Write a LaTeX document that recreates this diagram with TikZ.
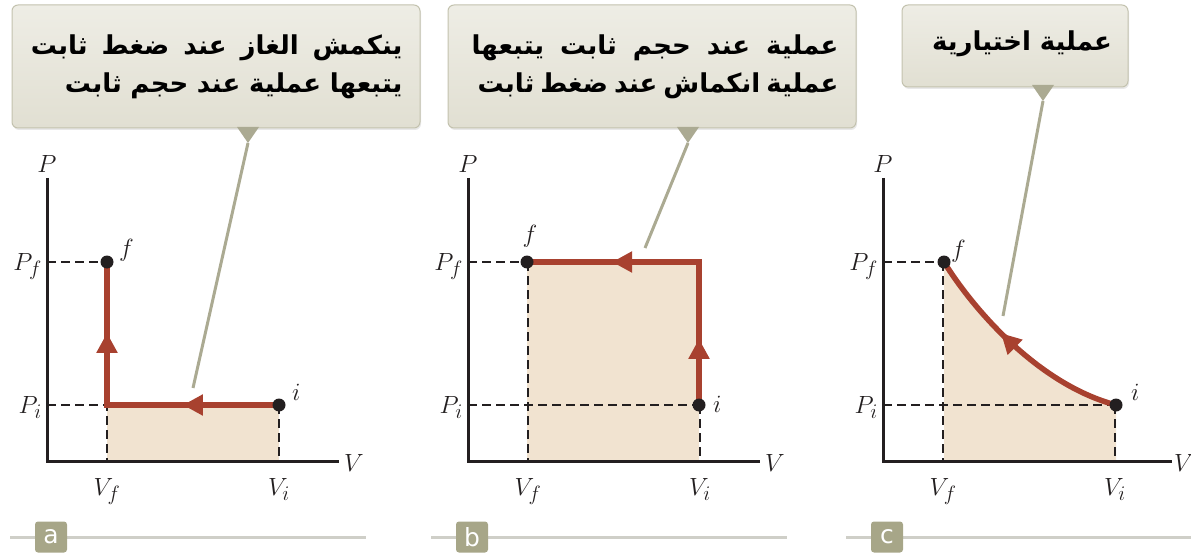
\documentclass[tikz,border=0pt]{standalone}
\usepackage{fontspec}
\usepackage{tikz}
\TeXXeTstate=1
\newfontfamily\arabicfont[Script=Arabic]{DejaVu Sans}
\newfontfamily\tagfont{DejaVu Sans}
\usetikzlibrary{arrows.meta,calc,decorations.markings,shadows}

\definecolor{pathred}{HTML}{A8412F}
\definecolor{areabeige}{HTML}{F1E3D0}
\definecolor{boxtop}{HTML}{EEEDE5}
\definecolor{boxbot}{HTML}{E1DFD2}
\definecolor{boxedge}{HTML}{C3C2AE}
\definecolor{pointer}{HTML}{ABAA92}
\definecolor{tagfill}{HTML}{A7A688}
\definecolor{rulegray}{HTML}{CFCFC8}
\definecolor{inkblack}{HTML}{231F20}

\newcommand\flowtip{\arrow{Triangle[length=20pt,width=20pt]}}

\begin{document}
\begin{tikzpicture}[x=1pt, y=-1pt,
  callout/.style={rectangle, rounded corners=6pt, draw=boxedge, line width=1pt,
                  top color=boxtop, bottom color=boxbot, inner sep=0pt,
                  drop shadow={opacity=0.18, shadow xshift=1pt, shadow yshift=-2pt},
                  font=\arabicfont\bfseries\fontsize{26}{32}\selectfont, align=right},
  leader/.style={draw=pointer, line width=3pt},
  area/.style={fill=areabeige},
  axis/.style={draw=inkblack, line width=3pt},
  guide/.style={draw=inkblack, line width=1.3pt, dash pattern=on 9pt off 5pt},
  flow/.style={pathred, line width=5.5pt, postaction={decorate}},
  lbl/.style={font=\fontsize{28}{28}\selectfont, text=inkblack, inner sep=0pt},
  rule/.style={draw=rulegray, line width=3pt},
  tag/.style={rectangle, rounded corners=3pt, fill=tagfill, minimum width=32pt,
              minimum height=31pt, inner sep=0pt, text=white,
              font=\tagfont\fontsize{25}{25}\selectfont}
]
  \useasboundingbox (0,0) rectangle (1191,556);

  % shaded work areas
  \fill[area] (107,405) rectangle (279,461);
  \fill[area] (527,262) rectangle (699,461);
  \fill[area] (944,262) .. controls (975,312) and (1040,385) .. (1116,405) |- (944,461) -- cycle;

  % axes, guide lines and panel tags
  \foreach \p/\ox/\vx/\vend in {a/47/297/292, b/468/297/292, c/883/291/289} {
    \begin{scope}[xshift=\ox]
      \draw[guide] (0,262) -- (60,262) (0,405) -- (232,405)
                   (60,262) -- (60,461) (232,405) -- (232,461);
      \draw[axis] (0,178) -- (0,461) -- (\vend,461);
      \node[lbl, anchor=south] (\p-P) at (0,173) {$P$};
      \node[lbl, anchor=base west] (\p-V) at (\vx,471) {$V$};
      \node[lbl, anchor=base east] (\p-Pf) at (-5,270) {$P_f$};
      \node[lbl, anchor=base east] (\p-Pi) at (-5,413) {$P_i$};
      \node[lbl, anchor=base] (\p-Vf) at (60,495) {$V_f$};
      \node[lbl, anchor=base] (\p-Vi) at (232,495) {$V_i$};
      \draw[rule] (-37,537) -- (319,537);
      \node[tag] (\p-tag) at (4,537) {\p};
    \end{scope}
  }

  % (a) pressure first, then volume
  \coordinate (a-i) at (279,405);
  \coordinate (a-k) at (107,405);
  \coordinate (a-f) at (107,262);
  \draw[flow, decoration={markings, mark=at position 0.305 with {\flowtip},
        mark=at position 0.775 with {\flowtip}}] (a-i) -- (a-k) -- (a-f);
  \fill[inkblack] (a-i) circle (6.5pt) (a-f) circle (6.5pt);
  \node[lbl, anchor=base west] (a-ilbl) at (292,400) {$i$};
  \node[lbl, anchor=base west] (a-flbl) at (119,256) {$f$};

  % (b) volume first, then pressure
  \coordinate (b-i) at (699,405);
  \coordinate (b-k) at (699,262);
  \coordinate (b-f) at (527,262);
  \draw[flow, decoration={markings, mark=at position 0.21 with {\flowtip},
        mark=at position 0.73 with {\flowtip}}] (b-i) -- (b-k) -- (b-f);
  \fill[inkblack] (b-i) circle (6.5pt) (b-f) circle (6.5pt);
  \node[lbl, anchor=base west] (b-ilbl) at (713,412) {$i$};
  \node[lbl, anchor=base] (b-flbl) at (530,243) {$f$};

  % (c) arbitrary path
  \coordinate (c-i) at (1116,405);
  \coordinate (c-f) at (944,262);
  \draw[flow, decoration={markings, mark=at position 0.6 with {\flowtip}}]
        (c-i) .. controls (1040,385) and (975,312) .. (c-f);
  \fill[inkblack] (c-i) circle (6.5pt) (c-f) circle (6.5pt);
  \node[lbl, anchor=base west] (c-ilbl) at (1131,400) {$i$};
  \node[lbl, anchor=base west] (c-flbl) at (951,257) {$f$};

  % callouts
  \node[callout, minimum width=408, minimum height=123, text width=373] (box-a) at (216,66.5)
    {\vspace*{6pt}{\spaceskip=14pt\relax\beginR ينكمش الغاز عند ضغط ثابت\endR}\\\beginR يتبعها عملية عند حجم ثابت\endR};
  \node[callout, minimum width=408, minimum height=123, text width=373] (box-b) at (652,66.5)
    {\vspace*{6pt}{\spaceskip=16pt\relax\beginR عملية عند حجم ثابت يتبعها\endR}\\{\spaceskip=6pt\relax\beginR عملية انكماش عند ضغط ثابت\endR}};
  \node[callout, minimum width=226, minimum height=82, text width=194] (box-c) at (1015,46)
    {\vspace*{4pt}\beginR عملية اختيارية\endR};

  \coordinate (tip-a) at (248,143);
  \coordinate (end-a) at (193,388);
  \coordinate (tip-b) at (688,143);
  \coordinate (end-b) at (645,248);
  \coordinate (tip-c) at (1043,101);
  \coordinate (end-c) at (1003,316);
  \foreach \p in {a,b,c} {
    \fill[pointer] ($(tip-\p)+(-11,-16)$) -- ($(tip-\p)+(11,-16)$) -- (tip-\p) -- cycle;
    \draw[leader] (tip-\p) -- (end-\p);
  }
\end{tikzpicture}
\end{document}
